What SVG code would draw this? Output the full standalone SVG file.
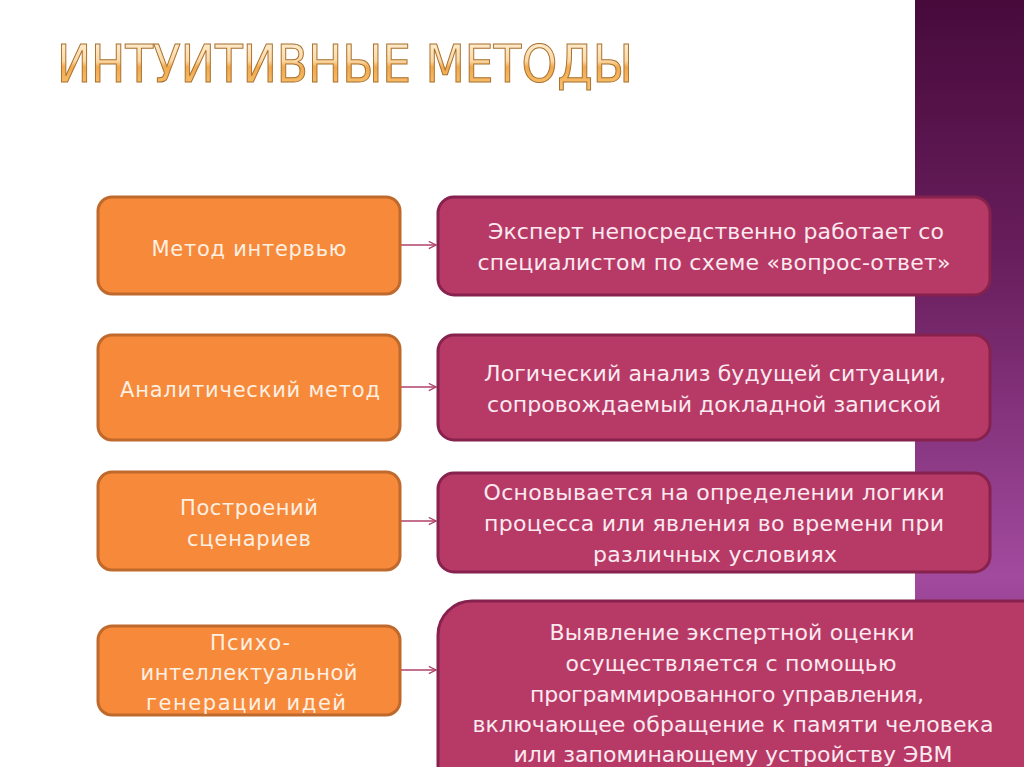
<svg xmlns="http://www.w3.org/2000/svg" width="1024" height="767" viewBox="0 0 1024 767">
<defs>
<linearGradient id="band" x1="0" y1="0" x2="0" y2="1">
<stop offset="0" stop-color="#470a3b"/>
<stop offset="0.35" stop-color="#6a1f5e"/>
<stop offset="0.75" stop-color="#a24a9e"/>
<stop offset="1" stop-color="#7a2d72"/>
</linearGradient>
<linearGradient id="title" x1="0" y1="0" x2="0" y2="1">
<stop offset="0" stop-color="#fff4e0"/>
<stop offset="0.45" stop-color="#fbd8a4"/>
<stop offset="0.55" stop-color="#f2a94e"/>
<stop offset="1" stop-color="#f8c77a"/>
</linearGradient>
<marker id="arr" viewBox="0 0 10 10" refX="9" refY="5" markerWidth="9" markerHeight="9" markerUnits="userSpaceOnUse" orient="auto">
<path d="M1,1 L9,5 L1,9" fill="none" stroke="#b0406a" stroke-width="1.4"/>
</marker>
</defs>
<style>
.or{fill:#f7893b;stroke:#bf6a2c;stroke-width:3}
.pk{fill:#b73a66;stroke:#86224d;stroke-width:3}
.to{font-family:"DejaVu Sans",sans-serif;font-size:21px;fill:#fdf0e2;text-anchor:middle}
.tp{font-family:"DejaVu Sans",sans-serif;font-size:22px;fill:#fbe9f0;text-anchor:middle}
.cn{stroke:#b0406a;stroke-width:1.5;fill:none}
</style>
<rect width="1024" height="767" fill="#ffffff"/>
<rect x="915" y="0" width="109" height="767" fill="url(#band)"/>
<text x="57" y="82" font-family="'DejaVu Sans Condensed','Liberation Sans Narrow',sans-serif" font-size="52" fill="url(#title)" stroke="#a8712f" stroke-width="1" textLength="576" lengthAdjust="spacingAndGlyphs">ИНТУИТИВНЫЕ МЕТОДЫ</text>
<g id="connectors">
<line class="cn" x1="400" y1="245" x2="436" y2="245" marker-end="url(#arr)"/>
<line class="cn" x1="400" y1="387" x2="436" y2="387" marker-end="url(#arr)"/>
<line class="cn" x1="400" y1="521" x2="436" y2="521" marker-end="url(#arr)"/>
<line class="cn" x1="400" y1="670" x2="436" y2="670" marker-end="url(#arr)"/>
</g>
<g id="m1"><rect class="or" x="98" y="197" width="302" height="97" rx="14"/>
<text class="to" x="249" y="256" textLength="195">Метод интервью</text></g>
<g id="m2"><rect class="or" x="98" y="335" width="302" height="105" rx="14"/>
<text class="to" x="250" y="397" textLength="260">Аналитический метод</text></g>
<g id="m3"><rect class="or" x="98" y="472" width="302" height="98" rx="14"/>
<text class="to" x="249" y="515" textLength="138">Построений</text>
<text class="to" x="249" y="546" textLength="124">сценариев</text></g>
<g id="m4"><rect class="or" x="98" y="626" width="302" height="89" rx="14"/>
<text class="to" x="250" y="650" textLength="80">Психо-</text>
<text class="to" x="249" y="680" textLength="217">интеллектуальной</text>
<text class="to" x="246" y="710" textLength="200">генерации идей</text></g>
<g id="d1"><rect class="pk" x="438" y="197" width="552" height="98" rx="16"/>
<text class="tp" x="716" y="239" textLength="456">Эксперт непосредственно работает со</text>
<text class="tp" x="714" y="270" textLength="473">специалистом по схеме «вопрос-ответ»</text></g>
<g id="d2"><rect class="pk" x="438" y="335" width="552" height="105" rx="16"/>
<text class="tp" x="715" y="381" textLength="462">Логический анализ будущей ситуации,</text>
<text class="tp" x="714" y="412" textLength="454">сопровождаемый докладной запиской</text></g>
<g id="d3"><rect class="pk" x="438" y="473" width="552" height="99" rx="16"/>
<text class="tp" x="714" y="500" textLength="461">Основывается на определении логики</text>
<text class="tp" x="714" y="531" textLength="460">процесса или явления во времени при</text>
<text class="tp" x="715" y="562" textLength="244">различных условиях</text></g>
<g id="d4"><rect class="pk" x="438" y="601" width="620" height="200" rx="34"/>
<text class="tp" x="732" y="640" textLength="365">Выявление экспертной оценки</text>
<text class="tp" x="731" y="671" textLength="331">осуществляется с помощью</text>
<text class="tp" x="727" y="702" textLength="394">программированного управления,</text>
<text class="tp" x="733" y="732" textLength="521">включающее обращение к памяти человека</text>
<text class="tp" x="733" y="762" textLength="439">или запоминающему устройству ЭВМ</text></g>
</svg>
